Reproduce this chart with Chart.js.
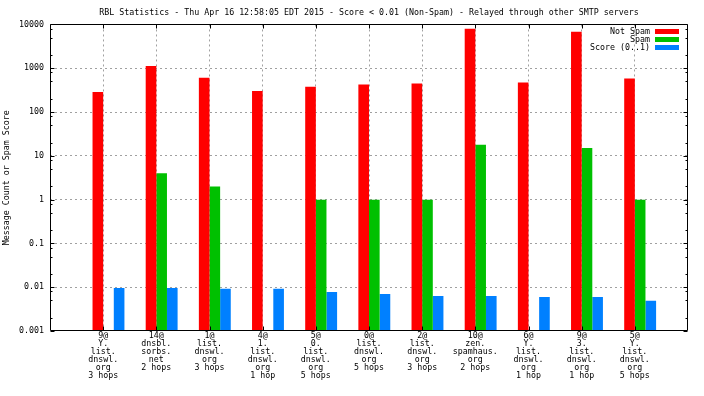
<!DOCTYPE html>
<html><head><meta charset="utf-8">
<script src="https://cdn.jsdelivr.net/npm/chart.js@4"></script>
<style>html,body{margin:0;padding:0;background:#fff}#wrap{width:704px;height:396px;position:relative}</style>
</head><body><div id="wrap"><canvas id="c"></canvas></div>
<script>
const titleText = 'RBL Statistics - Thu Apr 16 12:58:05 EDT 2015 - Score < 0.01 (Non-Spam) - Relayed through other SMTP servers';
const yAxisTitle = 'Message Count or Spam Score';
const categories = [
  ['9@','Y.','list.','dnswl.','org','3 hops'],
  ['14@','dnsbl.','sorbs.','net','2 hops'],
  ['1@','list.','dnswl.','org','3 hops'],
  ['4@','1.','list.','dnswl.','org','1 hop'],
  ['5@','0.','list.','dnswl.','org','5 hops'],
  ['0@','list.','dnswl.','org','5 hops'],
  ['2@','list.','dnswl.','org','3 hops'],
  ['10@','zen.','spamhaus.','org','2 hops'],
  ['6@','Y.','list.','dnswl.','org','1 hop'],
  ['9@','3.','list.','dnswl.','org','1 hop'],
  ['5@','Y.','list.','dnswl.','org','5 hops']
];
const seriesNames = ['Not Spam', 'Spam', 'Score (0..1)'];
const notSpam = [288, 1130, 610, 303, 380, 423, 447, 8030, 470, 6850, 580];
const spam = [null, 4, 2, null, 1, 1, 1, 18, null, 15, 1];
const score = [0.0096, 0.0096, 0.0092, 0.0092, 0.0078, 0.0070, 0.0063, 0.0063, 0.0060, 0.0060, 0.0049];
const yTickValues = [0.001, 0.01, 0.1, 1, 10, 100, 1000, 10000];
const yTickLabels = ['0.001', '0.01', '0.1', '1', '10', '100', '1000', '10000'];
const minorMultipliers = [2, 5, 8];
const seriesColors = ['#ff0000', '#00c000', '#0080ff'];

const FONT = "'DejaVu Sans Mono', monospace";
const nCat = categories.length;
Chart.defaults.color = '#000';
Chart.defaults.font.family = FONT;
Chart.defaults.font.size = 8.3;

const toPoints = arr => arr.map((v, i) => ({ x: i + 1, y: v }));
const seriesData = [notSpam, spam, score];

const frame = {
  id: 'frame',
  afterDatasetsDraw(chart) {
    const { ctx, chartArea: a, scales } = chart;
    const y = scales.y, x = scales.x;
    const L = Math.round(a.left) + 0.5, R = Math.round(a.right) - 0.5;
    const T = Math.round(a.top) + 0.5, B = Math.round(a.bottom) - 0.5;
    ctx.save();
    ctx.strokeStyle = '#000';
    ctx.lineWidth = 1;
    ctx.setLineDash([]);
    ctx.beginPath();
    ctx.rect(L, T, R - L, B - T);
    yTickValues.forEach(v => {
      const p = Math.round(y.getPixelForValue(v)) + 0.5;
      ctx.moveTo(L, p); ctx.lineTo(L + 4, p);
      ctx.moveTo(R, p); ctx.lineTo(R - 4, p);
    });
    for (let i = 0; i < yTickValues.length - 1; i++) {
      minorMultipliers.forEach(m => {
        const p = Math.round(y.getPixelForValue(yTickValues[i] * m)) + 0.5;
        ctx.moveTo(L, p); ctx.lineTo(L + 2, p);
        ctx.moveTo(R, p); ctx.lineTo(R - 2, p);
      });
    }
    x.ticks.forEach(t => {
      if (t.value <= 0 || t.value >= nCat + 1) return;
      const p = Math.round(x.getPixelForValue(t.value)) + 0.5;
      ctx.moveTo(p, T); ctx.lineTo(p, T + 4);
      ctx.moveTo(p, B); ctx.lineTo(p, B - 4);
    });
    ctx.stroke();
    ctx.restore();
  }
};

const keyBox = {
  id: 'keyBox',
  afterDraw(chart) {
    const { ctx, chartArea: a } = chart;
    ctx.save();
    ctx.font = '8.3px ' + FONT;
    ctx.textAlign = 'right';
    ctx.textBaseline = 'middle';
    chart.data.datasets.forEach((ds, i) => {
      const yy = a.top + 7 + i * 8;
      ctx.fillStyle = '#000';
      ctx.fillText(ds.label, a.right - 38, yy);
      ctx.fillStyle = ds.backgroundColor;
      ctx.fillRect(Math.round(a.right - 33), Math.round(yy - 2), 24, 5);
    });
    ctx.restore();
  }
};

new Chart(document.getElementById('c'), {
  type: 'bar',
  data: {
    datasets: seriesNames.map((name, j) => ({
      label: name,
      data: toPoints(seriesData[j]),
      backgroundColor: seriesColors[j],
      borderWidth: 0,
      xAxisID: 'xb',
      yAxisID: 'y',
      categoryPercentage: 0.6,
      barPercentage: 1.0
    }))
  },
  options: {
    responsive: true,
    maintainAspectRatio: false,
    animation: false,
    devicePixelRatio: 1,
    layout: { padding: { left: 0, right: 16, top: 0, bottom: 0 } },
    plugins: {
      legend: { display: false },
      tooltip: { enabled: false },
      title: {
        display: true,
        text: titleText,
        fullSize: false,
        color: '#000',
        font: { family: FONT, size: 8.3, weight: 'normal' },
        padding: { top: 8, bottom: 6.5 }
      }
    },
    scales: {
      x: {
        type: 'linear',
        position: 'bottom',
        min: 0,
        max: nCat + 1,
        offset: false,
        afterBuildTicks: s => { s.ticks = Array.from({ length: nCat + 2 }, (_, i) => ({ value: i })); },
        afterFit: s => { s.height = 65; },
        ticks: {
          autoSkip: false,
          maxRotation: 0,
          minRotation: 0,
          padding: 1,
          color: '#000',
          font: { family: FONT, size: 8.3, lineHeight: '8px' },
          callback: v => categories[v - 1] || ''
        },
        grid: {
          offset: false,
          drawTicks: false,
          color: ctx => (ctx.tick && ctx.tick.value > 0 && ctx.tick.value < nCat + 1) ? '#a0a0a0' : 'rgba(0,0,0,0)'
        },
        border: { display: false, dash: [2, 3] }
      },
      xb: {
        type: 'linear',
        display: false,
        min: -0.1,
        max: nCat + 0.9,
        offset: false,
        afterBuildTicks: s => { s.ticks = Array.from({ length: nCat + 1 }, (_, i) => ({ value: i })); },
        grid: { offset: false }
      },
      y: {
        type: 'logarithmic',
        position: 'left',
        min: 0.001,
        max: 10000,
        afterBuildTicks: s => { s.ticks = yTickValues.map(v => ({ value: v })); },
        afterFit: s => { s.width = 50; },
        ticks: {
          autoSkip: false,
          padding: 6,
          color: '#000',
          font: { family: FONT, size: 8.3 },
          callback: v => { const k = yTickValues.indexOf(v); return k >= 0 ? yTickLabels[k] : ''; }
        },
        grid: {
          drawTicks: false,
          color: ctx => (ctx.tick && ctx.tick.value > 0.001 && ctx.tick.value < 10000) ? '#a0a0a0' : 'rgba(0,0,0,0)'
        },
        border: { display: false, dash: [2, 3] },
        title: {
          display: true,
          text: yAxisTitle,
          color: '#000',
          font: { family: FONT, size: 8.3 },
          padding: { top: 1.5, bottom: 0 }
        }
      }
    }
  },
  plugins: [frame, keyBox]
});
</script>
</body></html>
